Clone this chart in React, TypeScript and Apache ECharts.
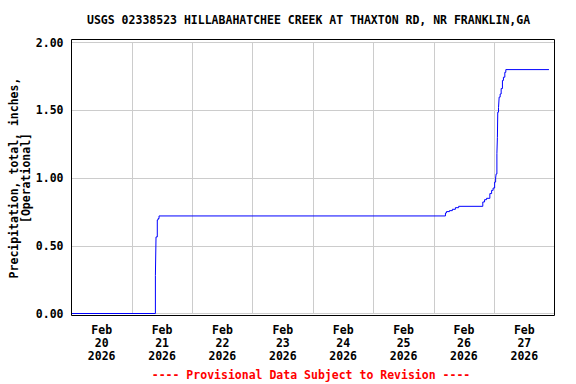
import React, { useEffect, useRef } from "react";
import * as echarts from "echarts";

const TITLE = "USGS 02338523 HILLABAHATCHEE CREEK AT THAXTON RD, NR FRANKLIN,GA";
const FOOTER = "---- Provisional Data Subject to Revision ----";
const Y_NAME = "Precipitation, total, inches,\n[Operational]";
const START = "2026-02-20T00:00";
const DAY_LABELS = ["Feb\n20\n2026", "Feb\n21\n2026", "Feb\n22\n2026", "Feb\n23\n2026", "Feb\n24\n2026", "Feb\n25\n2026", "Feb\n26\n2026", "Feb\n27\n2026"];
const Y_TICKS = [0, 0.5, 1.0, 1.5, 2.0];

const times = [
  "2026-02-20T00:00", "2026-02-21T09:21", "2026-02-21T09:36", "2026-02-21T10:06", "2026-02-21T10:24",
  "2026-02-21T10:48", "2026-02-26T04:39", "2026-02-26T05:03", "2026-02-26T06:15", "2026-02-26T07:24",
  "2026-02-26T08:36", "2026-02-26T09:54", "2026-02-26T19:30", "2026-02-26T20:12", "2026-02-26T21:00",
  "2026-02-26T22:18", "2026-02-26T23:00", "2026-02-26T23:36", "2026-02-27T00:12", "2026-02-27T00:36",
  "2026-02-27T00:48", "2026-02-27T01:06", "2026-02-27T01:18", "2026-02-27T01:27", "2026-02-27T01:45",
  "2026-02-27T02:00", "2026-02-27T02:24", "2026-02-27T02:48", "2026-02-27T03:18", "2026-02-27T03:42",
  "2026-02-27T04:15", "2026-02-27T04:39", "2026-02-27T21:48",
];
const precip = [
  0, 0.28, 0.565, 0.69, 0.70,
  0.72, 0.742, 0.752, 0.759, 0.769,
  0.781, 0.791, 0.823, 0.84, 0.85,
  0.885, 0.909, 0.926, 0.97, 1.0,
  1.03, 1.18, 1.30, 1.486, 1.52,
  1.597, 1.62, 1.66, 1.72, 1.744,
  1.78, 1.80, 1.80,
];

const FONT = "'DejaVu Sans Mono', monospace";

export default function App() {
  const ref = useRef<HTMLDivElement>(null);
  useEffect(() => {
    if (!ref.current) return;
    const chart = echarts.init(ref.current, undefined, { renderer: "svg" });
    const t0 = Date.parse(START + ":00Z");
    const data = times.map((t, i) => [(Date.parse(t + ":00Z") - t0) / 3600000, precip[i]]);
    const gl = 71.5, gr = 21.5, gt = 42.5, gb = 70.5;
    chart.setOption({
      animation: false,
      backgroundColor: "#ffffff",
      title: {
        text: TITLE,
        left: 87,
        top: 14,
        padding: 0,
        textStyle: { fontFamily: FONT, fontSize: 11.5, fontWeight: "bold", color: "#000" },
      },
      grid: { left: gl, right: gr, top: gt, bottom: gb, containLabel: false, outerBoundsMode: "none" },
      xAxis: [
        {
          type: "value",
          min: 0,
          max: 192,
          interval: 24,
          axisLine: { show: false },
          axisTick: { show: false },
          axisLabel: { show: false },
          splitLine: { show: true, lineStyle: { color: "#cccccc", width: 1 } },
        },
        {
          type: "category",
          data: DAY_LABELS,
          boundaryGap: true,
          position: "bottom",
          axisLine: { show: false },
          axisTick: { show: false },
          splitLine: { show: false },
          axisLabel: {
            interval: 0,
            margin: 10,
            fontFamily: FONT,
            fontSize: 11.5,
            fontWeight: "bold",
            color: "#000",
            lineHeight: 12.8,
            align: "center",
          },
        },
      ],
      yAxis: {
        type: "value",
        min: 0,
        max: 2,
        interval: 0.5,
        name: Y_NAME,
        nameLocation: "middle",
        nameGap: 40,
        nameMoveOverlap: false,
        nameTextStyle: { fontFamily: FONT, fontSize: 11.5, fontWeight: "bold", color: "#000", lineHeight: 11.5, align: "center" },
        axisLine: { show: false },
        axisTick: { show: false },
        axisLabel: {
          margin: 8,
          fontFamily: FONT,
          fontSize: 11.5,
          fontWeight: "bold",
          color: "#000",
          formatter: (v: number) => (Y_TICKS.includes(v) ? v.toFixed(2) : ""),
        },
        splitLine: { show: true, lineStyle: { color: "#cccccc", width: 1 } },
      },
      graphic: [
        {
          type: "rect",
          shape: { x: 71.5, y: 39.5, width: 483, height: 276 },
          style: { fill: "none", stroke: "#000", lineWidth: 1 },
          z: 100,
          silent: true,
        },
        {
          type: "text",
          x: 311,
          y: 375,
          style: {
            text: FOOTER,
            fill: "#ff0000",
            font: "bold 11.5px 'DejaVu Sans Mono', monospace",
            textAlign: "center",
            textVerticalAlign: "middle",
          },
        },
      ],
      series: [
        {
          type: "line",
          xAxisIndex: 0,
          data,
          step: "end",
          symbol: "none",
          lineStyle: { color: "#0000ff", width: 1 },
          z: 10,
        },
      ],
    });
    return () => chart.dispose();
  }, []);
  return <div ref={ref} style={{ width: 576, height: 384, position: "absolute", left: 0, top: 0 }} />;
}
